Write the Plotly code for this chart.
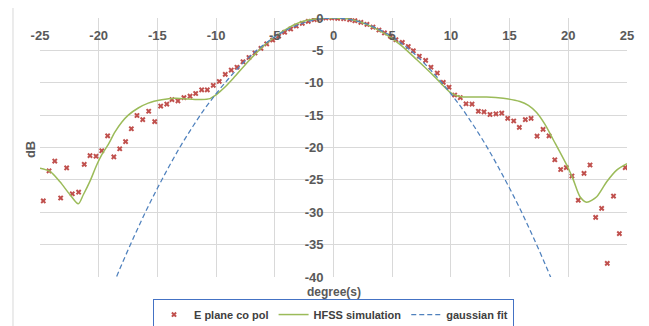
import plotly.graph_objects as go

# ---- data ----
e_deg = [-24.72, -24.23, -23.74, -23.24, -22.73, -22.25, -21.71, -21.23, -20.74, -20.23,
         -19.74, -19.24, -18.71, -18.21, -17.71, -17.22, -16.74, -16.25, -15.74, -15.23,
         -14.72, -14.2, -13.76, -13.25, -12.74, -12.22, -11.74, -11.23, -10.75, -10.24,
         -9.73, -9.22, -8.71, -8.22, -7.71, -7.2, -6.69, -6.18, -5.69, -5.18,
         -4.67, -4.16, -3.65, -3.17, -2.66, -2.15, -1.64, -1.15, -0.65, -0.14,
         0.35, 0.86, 1.37, 1.82, 2.33, 2.85, 3.36, 3.87, 4.34, 4.85,
         5.32, 5.86, 6.37, 6.8, 7.31, 7.85, 8.3, 8.84, 9.35, 9.84,
         10.32, 10.8, 11.29, 11.8, 12.34, 12.82, 13.33, 13.84, 14.33, 14.84,
         15.35, 15.83, 16.34, 16.83, 17.34, 17.85, 18.36, 18.85, 19.35, 19.83,
         20.31, 20.85, 21.34, 21.85, 22.33, 22.84, 23.32, 23.85, 24.35, 24.85]
e_db = [-28.25, -23.6, -22.1, -27.8, -23.15, -27.15, -26.9, -22.6, -21.25, -21.35,
        -20.5, -18.2, -21.45, -20.2, -19.1, -17.1, -15.06, -15.7, -14.4, -16.0,
        -13.6, -13.3, -12.6, -12.8, -12.3, -12.07, -11.66, -11.1, -11.1, -10.4,
        -9.8, -8.7, -8.05, -7.6, -6.76, -6.1, -5.4, -4.7, -4.0, -3.4,
        -2.8, -2.2, -1.7, -1.24, -0.83, -0.52, -0.26, -0.1, 0.0, 0.0,
        -0.05, -0.1, -0.26, -0.42, -0.68, -0.99, -1.4, -1.86, -2.3, -2.8,
        -3.36, -3.77, -4.4, -5.06, -5.9, -6.55, -7.6, -8.5, -9.95, -10.7,
        -11.9, -12.3, -13.25, -13.3, -14.4, -14.5, -14.9, -14.8, -14.7, -15.5,
        -15.9, -16.9, -15.7, -15.5, -18.25, -17.2, -18.2, -21.9, -23.4, -23.1,
        -24.4, -28.15, -24.0, -22.7, -30.8, -29.4, -37.9, -27.5, -33.3, -23.1]

hfss_deg = [-25, -24.15, -23.3, -22.44, -21.74, -21.31, -20.74, -20.17, -19.7, -19.18,
            -18.61, -18.04, -17.48, -16.63, -15.78, -14.64, -13.5, -12.37, -11.23, -10.52,
            -10.1, -9.7, -9.24, -8.53, -7.11, -5.69, -4.27, -2.85, -1.43, 0, 1.42,
            2.84, 4.26, 5.68, 7.1, 8.52, 9.94, 10.5, 11.06, 13.04, 14.46,
            15.88, 16.6, 17.3, 18.0, 18.72, 20.0, 20.43, 21.0, 21.56, 22.42,
            23.27, 24.12, 25]
hfss_db = [-23.2, -23.7, -25.3, -27.3, -28.7, -27.3, -25.2, -22.7, -21.0, -19.5,
           -17.6, -16.1, -15.0, -13.9, -13.15, -12.64, -12.4, -12.5, -12.6, -12.45,
           -12.0, -11.4, -10.65, -9.3, -6.4, -3.9, -2.0, -0.65, -0.12, 0.0, -0.2,
           -1.0, -2.3, -4.1, -6.45, -8.9, -11.5, -12.0, -12.2, -12.2, -12.4,
           -12.9, -13.5, -14.6, -16.4, -18.8, -23.2, -25.0, -27.6, -28.45, -27.6,
           -25.3, -23.5, -22.5]

gauss_deg = [-19, -18, -17, -16, -15, -14, -13, -12, -11, -10, -9, -8, -7, -6, -5, -4, -3, -2, -1, 0,
             1, 2, 3, 4, 5, 6, 7, 8, 9, 10, 11, 12, 13, 14, 15, 16, 17, 18, 19]
gauss_db = [-42.2, -37.9, -33.8, -29.9, -26.3, -22.9, -19.7, -16.8, -14.1, -11.7, -9.5, -7.5,
            -5.7, -4.2, -2.9, -1.87, -1.05, -0.47, -0.12, 0.0,
            -0.12, -0.47, -1.05, -1.87, -2.9, -4.2, -5.7, -7.5, -9.5, -11.7, -14.1, -16.8,
            -19.7, -22.9, -26.3, -29.9, -33.8, -37.9, -42.2]

x_ticks = [-25, -20, -15, -10, -5, 0, 5, 10, 15, 20, 25]
y_ticks = [0, -5, -10, -15, -20, -25, -30, -35, -40]

tick_font = dict(family="Liberation Sans", size=13, color="#595959", weight="bold")

fig = go.Figure()
fig.add_trace(go.Scatter(x=e_deg, y=e_db, mode="markers", name="E plane co pol",
                         marker=dict(symbol="x", size=5, color="#C0504D", line=dict(width=0))))
fig.add_trace(go.Scatter(x=hfss_deg, y=hfss_db, mode="lines", name="HFSS simulation",
                         line=dict(color="#9BBB59", width=1.5, shape="spline", smoothing=0.8)))
fig.add_trace(go.Scatter(x=gauss_deg, y=gauss_db, mode="lines", name="gaussian fit",
                         line=dict(color="#4F81BD", width=1.25, dash="5px,3px", shape="spline")))

fig.update_layout(
    width=641, height=318,
    margin=dict(l=32, r=22, t=10, b=49, autoexpand=False),
    paper_bgcolor="white", plot_bgcolor="white",
    showlegend=True,
    legend=dict(orientation="h", x=0.5, xanchor="center", y=-0.145, yanchor="middle",
                bordercolor="#4472C4", borderwidth=1, tracegroupgap=0,
                font=dict(family="Liberation Sans", size=11, color="#404040", weight="bold")),
    xaxis=dict(range=[-25, 25], tickvals=x_ticks, ticktext=[str(v) for v in x_ticks],
               anchor="free", position=1, side="bottom", automargin=False,
               showgrid=True, gridcolor="#D9D9D9", gridwidth=1, zeroline=False,
               showline=False, ticks="", tickfont=tick_font, ticklabelstandoff=8),
    yaxis=dict(range=[-40, 0], tickvals=y_ticks, ticktext=[str(v) for v in y_ticks],
               anchor="free", position=0.5, side="left", automargin=False,
               showgrid=True, gridcolor="#D9D9D9", gridwidth=1, zeroline=False,
               showline=False, ticks="", tickfont=tick_font, ticklabelstandoff=10),
    annotations=[
        dict(text="degree(s)", xref="paper", yref="paper", x=0.5, y=-0.058,
             showarrow=False, xanchor="center", yanchor="middle",
             font=dict(family="Liberation Sans", size=12, color="#595959", weight="bold")),
        dict(text="dB", xref="paper", yref="paper", x=-0.017, y=0.49, textangle=-90,
             showarrow=False, xanchor="center", yanchor="middle",
             font=dict(family="Liberation Sans", size=13, color="#595959", weight="bold")),
    ],
    shapes=[dict(type="rect", xref="paper", yref="paper", x0=-0.046, x1=1.0256,
                 y0=-0.3, y1=1.046, line=dict(color="#D9D9D9", width=1), layer="below")],
)

fig.write_html("out.html")
